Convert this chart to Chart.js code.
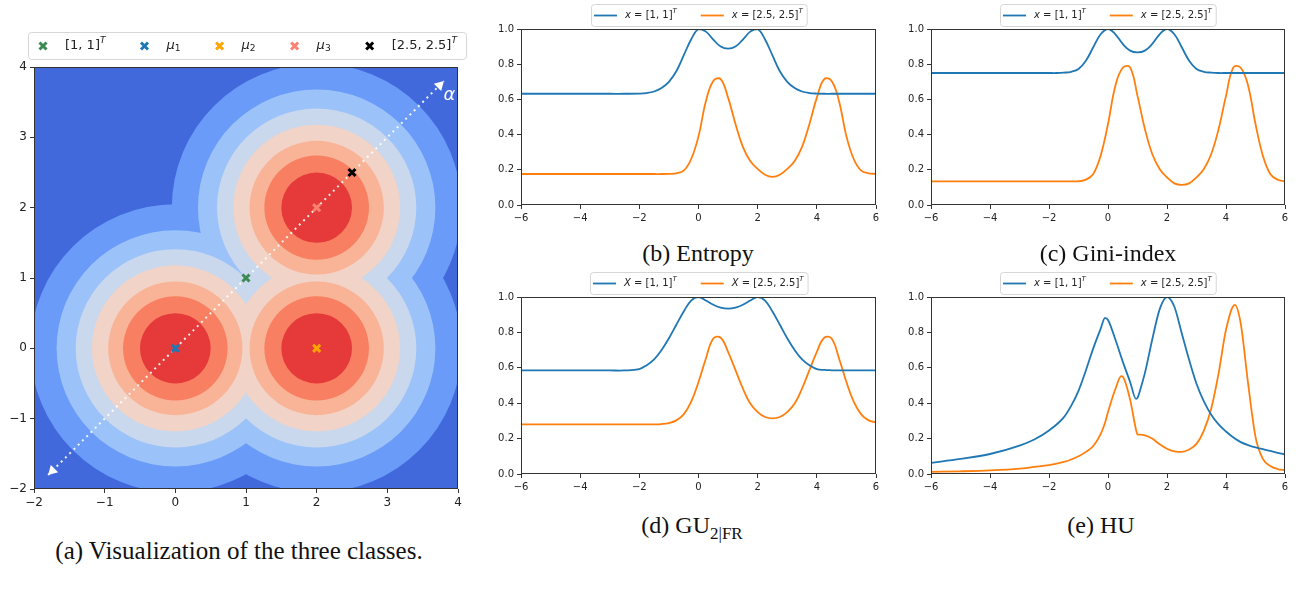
<!DOCTYPE html>
<html>
<head>
<meta charset="utf-8">
<script src="https://cdn.jsdelivr.net/npm/chart.js@4.4.1/dist/chart.umd.min.js"></script>
<style>
  body { margin: 0; background: #fff; width: 1307px; height: 593px; position: relative; overflow: hidden; }
  .box { position: absolute; }
  .cap { position: absolute; font-family: "Liberation Serif", serif; font-size: 24px; line-height: 24px;
         color: #111; white-space: nowrap; transform: translateX(-50%); }
  .cap sub { font-size: 17px; line-height: 0; vertical-align: -6px; }
</style>
</head>
<body>
<div class="box" style="left:0;top:25px;width:475px;height:494px"><canvas id="classes"></canvas></div>
<div class="box" style="left:480px;top:0;width:420px;height:225px"><canvas id="entropy"></canvas></div>
<div class="box" style="left:890px;top:0;width:417px;height:225px"><canvas id="gini"></canvas></div>
<div class="box" style="left:480px;top:268px;width:420px;height:226px"><canvas id="gu"></canvas></div>
<div class="box" style="left:890px;top:268px;width:417px;height:226px"><canvas id="hu"></canvas></div>

<div class="cap" style="left:698px;top:241px">(b) Entropy</div>
<div class="cap" style="left:1108px;top:241px">(c) Gini-index</div>
<div class="cap" style="left:692px;top:513px">(d) GU<sub>2|FR</sub></div>
<div class="cap" style="left:1101px;top:513px">(e) HU</div>
<div class="cap" style="left:239px;top:539px;font-size:25px">(a) Visualization of the three classes.</div>

<script>
// ---- data ----
const curveX = [-6, -5, -4, -3, -2.5, -2, -1.75, -1.5, -1.25, -1, -0.75, -0.5, -0.25, 0, 0.25, 0.5, 0.75,
  1, 1.25, 1.5, 1.75, 2, 2.25, 2.5, 2.75, 3, 3.25, 3.5, 3.75, 4, 4.25, 4.5, 4.75, 5, 5.25, 5.5, 5.75, 6];

const entropyA = [0.632, 0.632, 0.632, 0.632, 0.632, 0.633, 0.636, 0.645, 0.665, 0.70, 0.76, 0.85, 0.94, 1.0, 0.985, 0.94, 0.90,
  0.888, 0.90, 0.94, 0.985, 1.0, 0.94, 0.85, 0.76, 0.70, 0.665, 0.645, 0.636, 0.633, 0.632, 0.632, 0.632, 0.632, 0.632, 0.632, 0.632, 0.632];
const entropyB = [0.176, 0.176, 0.176, 0.176, 0.176, 0.176, 0.176, 0.176, 0.176, 0.177, 0.18, 0.195, 0.26, 0.39, 0.59, 0.705, 0.715,
  0.61, 0.46, 0.33, 0.25, 0.205, 0.172, 0.16, 0.172, 0.205, 0.25, 0.33, 0.46, 0.61, 0.715, 0.705, 0.59, 0.39, 0.26, 0.195, 0.18, 0.177];

const giniA = [0.75, 0.75, 0.75, 0.75, 0.75, 0.75, 0.75, 0.752, 0.757, 0.773, 0.82, 0.896, 0.97, 1.0, 0.97, 0.915, 0.877,
  0.867, 0.877, 0.915, 0.97, 1.0, 0.97, 0.896, 0.82, 0.773, 0.757, 0.752, 0.75, 0.75, 0.75, 0.75, 0.75, 0.75, 0.75, 0.75, 0.75, 0.75];
const giniB = [0.134, 0.134, 0.134, 0.134, 0.134, 0.134, 0.134, 0.134, 0.134, 0.135, 0.144, 0.176, 0.28, 0.46, 0.678, 0.78, 0.782,
  0.62, 0.432, 0.29, 0.205, 0.157, 0.123, 0.114, 0.123, 0.157, 0.205, 0.29, 0.432, 0.62, 0.782, 0.78, 0.678, 0.46, 0.28, 0.176, 0.144, 0.135];

const guA = [0.585, 0.585, 0.585, 0.585, 0.585, 0.593, 0.615, 0.648, 0.70, 0.767, 0.843, 0.918, 0.98, 1.0, 0.98, 0.956, 0.94,
  0.934, 0.94, 0.956, 0.98, 1.0, 0.98, 0.918, 0.843, 0.767, 0.70, 0.648, 0.615, 0.593, 0.588, 0.586, 0.585, 0.585, 0.585, 0.585, 0.585, 0.585];
const guB = [0.28, 0.28, 0.28, 0.28, 0.28, 0.28, 0.28, 0.28, 0.282, 0.288, 0.303, 0.337, 0.407, 0.52, 0.653, 0.766, 0.77,
  0.69, 0.587, 0.483, 0.398, 0.35, 0.322, 0.314, 0.322, 0.35, 0.398, 0.483, 0.587, 0.69, 0.77, 0.766, 0.653, 0.52, 0.407, 0.337, 0.303, 0.292];

const huX = [-6, -5, -4, -3, -2.5, -2, -1.5, -1.25, -1, -0.75, -0.5, -0.25, -0.1, 0, 0.25, 0.45, 0.5, 0.75, 0.95, 1, 1.1,
  1.25, 1.5, 1.75, 2, 2.25, 2.5, 2.75, 3, 3.25, 3.5, 3.75, 4, 4.3, 4.5, 4.75, 5, 5.25, 5.5, 5.75, 6];
const huA = [0.063, 0.085, 0.113, 0.16, 0.195, 0.246, 0.32, 0.385, 0.47, 0.585, 0.71, 0.82, 0.882, 0.87, 0.76, 0.66, 0.635, 0.52, 0.425, 0.43, 0.48,
  0.57, 0.76, 0.93, 1.0, 0.945, 0.795, 0.645, 0.51, 0.41, 0.335, 0.28, 0.24, 0.2, 0.18, 0.163, 0.15, 0.14, 0.13, 0.12, 0.11];
const huB = [0.012, 0.015, 0.02, 0.03, 0.04, 0.05, 0.068, 0.082, 0.1, 0.125, 0.158, 0.225, 0.29, 0.35, 0.48, 0.553, 0.55, 0.42, 0.25, 0.222, 0.222,
  0.218, 0.2, 0.168, 0.143, 0.128, 0.125, 0.138, 0.17, 0.245, 0.37, 0.57, 0.815, 0.956, 0.85, 0.51, 0.21, 0.085, 0.045, 0.028, 0.022];

const seriesLabels = ['[1, 1]^T', '[2.5, 2.5]^T'];
const lineTicksX = [-6, -4, -2, 0, 2, 4, 6];
const lineTicksY = [0, 0.2, 0.4, 0.6, 0.8, 1.0];

// panel (a)
const planeTicks = [-2, -1, 0, 1, 2, 3, 4];
const meanX = [0, 2, 2];
const meanY = [0, 0, 2];
const levelRadii = [2.05, 1.68, 1.41, 1.18, 0.95, 0.74, 0.5];
const markerLabels = ['[1, 1]^T', 'μ_1', 'μ_2', 'μ_3', '[2.5, 2.5]^T'];
const markerX = [1, 0, 2, 2, 2.5];
const markerY = [1, 0, 0, 2, 2.5];
const alphaPath = [-1.8, 3.8];
const alphaHeads = [3.74, -1.74];

// ---- styles ----
const BLUE = '#1f77b4', ORANGE = '#ff7f0e';
const planeBg = '#4169dc';
const levelColors = ['#6a9bf8', '#9cc2fa', '#c9d8ec', '#f2d3c7', '#f9b497', '#f87f61', '#e5393a'];
const markerColors = ['#3a8a52', '#1f77b4', '#ffa500', '#fa8072', '#000000'];
const FONT = 'DejaVu Sans';

const fmtMinus = v => (v < 0 ? '\u2212' + Math.abs(v) : String(v));

// mathtext-ish label: letters italic, optional ^ or _ script
function richParts(label, size) {
  let base = label, mode = null, script = '';
  const i = label.search(/[\^_]/);
  if (i >= 0) { base = label.slice(0, i); mode = label[i]; script = label.slice(i + 1); }
  const parts = [];
  const push = (str, sz, dy) => {
    for (const ch of str) {
      const it = /\p{L}/u.test(ch);
      const last = parts[parts.length - 1];
      if (last && last.italic === it && last.size === sz && last.dy === dy) last.t += ch;
      else parts.push({ t: ch, italic: it, size: sz, dy });
    }
  };
  push(base, size, 0);
  if (mode) push(script, size * 0.7, mode === '^' ? -size * 0.4 : size * 0.22);
  return parts;
}
function partFont(p) { return (p.italic ? 'italic ' : '') + p.size + 'px "' + FONT + '"'; }
function partsWidth(ctx, parts) {
  let w = 0;
  parts.forEach(p => { ctx.font = partFont(p); w += ctx.measureText(p.t).width; });
  return w;
}
function drawParts(ctx, parts, x, y) {
  ctx.textBaseline = 'middle';
  ctx.textAlign = 'left';
  parts.forEach(p => {
    ctx.font = partFont(p);
    ctx.fillText(p.t, x, y + p.dy);
    x += ctx.measureText(p.t).width;
  });
  return x;
}
function legendBox(ctx, x, y, w, h) {
  ctx.beginPath();
  if (ctx.roundRect) ctx.roundRect(x + 0.5, y + 0.5, w, h, 3); else ctx.rect(x + 0.5, y + 0.5, w, h);
  ctx.fillStyle = 'rgba(255,255,255,0.9)';
  ctx.fill();
  ctx.strokeStyle = '#d6d6d6';
  ctx.lineWidth = 1;
  ctx.stroke();
}

const framePlugin = {
  id: 'frame',
  afterDatasetsDraw(chart) {
    const { ctx, chartArea: a } = chart;
    ctx.save();
    ctx.strokeStyle = '#333';
    ctx.lineWidth = 1;
    ctx.strokeRect(Math.round(a.left) + 0.5, Math.round(a.top) + 0.5, Math.round(a.right - a.left) - 1, Math.round(a.bottom - a.top) - 1);
    ctx.restore();
  }
};

function axis(kind, min, max, ticks, fmt, size, fontSize) {
  return {
    type: 'linear', min, max,
    afterBuildTicks: s => { s.ticks = ticks.map(value => ({ value })); },
    afterFit: s => {
      if (kind === 'x') { s.height = size; s.paddingLeft = 0; s.paddingRight = 0; }
      else { s.width = size; s.paddingTop = 0; s.paddingBottom = 0; }
    },
    grid: { drawOnChartArea: false, drawTicks: true, tickLength: 4, color: '#333', lineWidth: 1 },
    border: { display: false },
    ticks: { callback: fmt, font: { family: FONT, size: fontSize }, color: '#222', padding: 3, autoSkip: false, maxRotation: 0 }
  };
}

// ---- curve panels ----
const curveLegend = {
  id: 'curveLegend',
  afterDraw(chart) {
    const { ctx, chartArea: a } = chart;
    const size = 10;
    const items = chart.data.datasets.map(d => ({ color: d.borderColor, parts: richParts(d.label, size) }));
    ctx.save();
    const widths = items.map(it => partsWidth(ctx, it.parts));
    const w = 3 + 31 + widths[0] + 24 + 31 + widths[1] + 4;
    const h = 22;
    const left = Math.round((a.left + a.right) / 2 - w / 2);
    const top = Math.round(a.top - 25);
    legendBox(ctx, left, top, w, h);
    let x = left + 3;
    const cy = top + h / 2 + 0.5;
    items.forEach(it => {
      ctx.strokeStyle = it.color;
      ctx.lineWidth = 1.8;
      ctx.beginPath(); ctx.moveTo(x, cy); ctx.lineTo(x + 23, cy); ctx.stroke();
      x += 31;
      ctx.fillStyle = '#222';
      x = drawParts(ctx, it.parts, x, cy) + 24;
    });
    ctx.restore();
  }
};

function curveChart(id, xs, a, b, v, padRight, smooth) {
  new Chart(document.getElementById(id), {
    type: 'line',
    data: {
      datasets: [
        { label: v + ' = ' + seriesLabels[0], data: xs.map((x, i) => ({ x, y: a[i] })), borderColor: BLUE },
        { label: v + ' = ' + seriesLabels[1], data: xs.map((x, i) => ({ x, y: b[i] })), borderColor: ORANGE }
      ]
    },
    options: {
      animation: false, responsive: true, maintainAspectRatio: false,
      layout: { padding: { top: 29, right: padRight, left: 0, bottom: 0 } },
      elements: {
        point: { radius: 0 },
        line: smooth
          ? { borderWidth: 1.8, tension: 0.4, fill: false }
          : { borderWidth: 1.8, cubicInterpolationMode: 'monotone', fill: false }
      },
      scales: {
        x: axis('x', -6, 6, lineTicksX, fmtMinus, 20, 10),
        y: axis('y', 0, 1, lineTicksY, v => v.toFixed(1), 41, 10)
      },
      plugins: { legend: { display: false }, tooltip: { enabled: false } }
    },
    plugins: [framePlugin, curveLegend]
  });
}

curveChart('entropy', curveX, entropyA, entropyB, 'x', 24, true);
curveChart('gini', curveX, giniA, giniB, 'x', 22, true);
curveChart('gu', curveX, guA, guB, 'X', 24, true);
curveChart('hu', huX, huA, huB, 'x', 22, false);

// ---- panel (a): the three classes ----
function drawX(ctx, x, y, color) {
  ctx.strokeStyle = color;
  ctx.lineWidth = 3;
  ctx.beginPath();
  ctx.moveTo(x - 3.5, y - 3.5); ctx.lineTo(x + 3.5, y + 3.5);
  ctx.moveTo(x + 3.5, y - 3.5); ctx.lineTo(x - 3.5, y + 3.5);
  ctx.stroke();
}

const contourPlugin = {
  id: 'contour',
  beforeDatasetsDraw(chart) {
    const { ctx, chartArea: a, scales: { x, y } } = chart;
    ctx.save();
    ctx.beginPath();
    ctx.rect(a.left, a.top, a.right - a.left, a.bottom - a.top);
    ctx.clip();
    ctx.fillStyle = planeBg;
    ctx.fillRect(a.left, a.top, a.right - a.left, a.bottom - a.top);
    levelRadii.forEach((r, i) => {
      ctx.fillStyle = levelColors[i];
      ctx.beginPath();
      meanX.forEach((cx, j) => {
        const px = x.getPixelForValue(cx), py = y.getPixelForValue(meanY[j]);
        const rx = x.getPixelForValue(cx + r) - px;
        const ry = py - y.getPixelForValue(meanY[j] + r);
        ctx.moveTo(px + rx, py);
        ctx.ellipse(px, py, rx, ry, 0, 0, Math.PI * 2);
      });
      ctx.fill();
    });
    ctx.restore();
  },
  afterDatasetsDraw(chart) {
    const { ctx, scales: { x, y } } = chart;
    ctx.save();
    ctx.fillStyle = '#fff';
    ctx.font = 'italic 18px "' + FONT + '"';
    ctx.textAlign = 'center';
    ctx.textBaseline = 'middle';
    ctx.fillText('α', x.getPixelForValue(3.88), y.getPixelForValue(3.6));
    ctx.restore();
  },
  afterDraw(chart) {
    const { ctx, chartArea: a } = chart;
    const size = 13;
    ctx.save();
    legendBox(ctx, Math.round(a.left - 6), Math.round(a.top - 35), 438, 27);
    const cy = a.top - 21;
    let mx = a.left + 9;
    markerLabels.forEach((lab, i) => {
      drawX(ctx, mx, cy, markerColors[i]);
      ctx.fillStyle = '#222';
      const end = drawParts(ctx, richParts(lab, size), mx + 22, cy);
      mx = end + 39;
    });
    ctx.restore();
  }
};

new Chart(document.getElementById('classes'), {
  type: 'scatter',
  data: {
    datasets: [
      {
        label: 'points',
        data: markerX.map((x, i) => ({ x, y: markerY[i] })),
        pointStyle: 'crossRot', pointRadius: 5, pointBorderWidth: 3,
        pointBorderColor: markerColors, pointBackgroundColor: markerColors
      },
      {
        label: 'alpha heads',
        data: alphaHeads.map(v => ({ x: v, y: v })),
        pointStyle: 'triangle', pointRadius: 6, pointRotation: [45, 225],
        pointBackgroundColor: '#fff', pointBorderColor: '#fff', pointBorderWidth: 0
      },
      {
        label: 'alpha',
        data: alphaPath.map(v => ({ x: v, y: v })),
        showLine: true, borderColor: 'rgba(255,255,255,0.9)', borderWidth: 2, borderDash: [2, 4], pointRadius: 0
      }
    ]
  },
  options: {
    animation: false, responsive: true, maintainAspectRatio: false,
    layout: { padding: { top: 42, right: 17, left: 0, bottom: 0 } },
    scales: {
      x: axis('x', -2, 4, planeTicks, fmtMinus, 30, 12),
      y: axis('y', -2, 4, planeTicks, fmtMinus, 34, 12)
    },
    plugins: { legend: { display: false }, tooltip: { enabled: false } }
  },
  plugins: [contourPlugin, framePlugin]
});
</script>
</body>
</html>
